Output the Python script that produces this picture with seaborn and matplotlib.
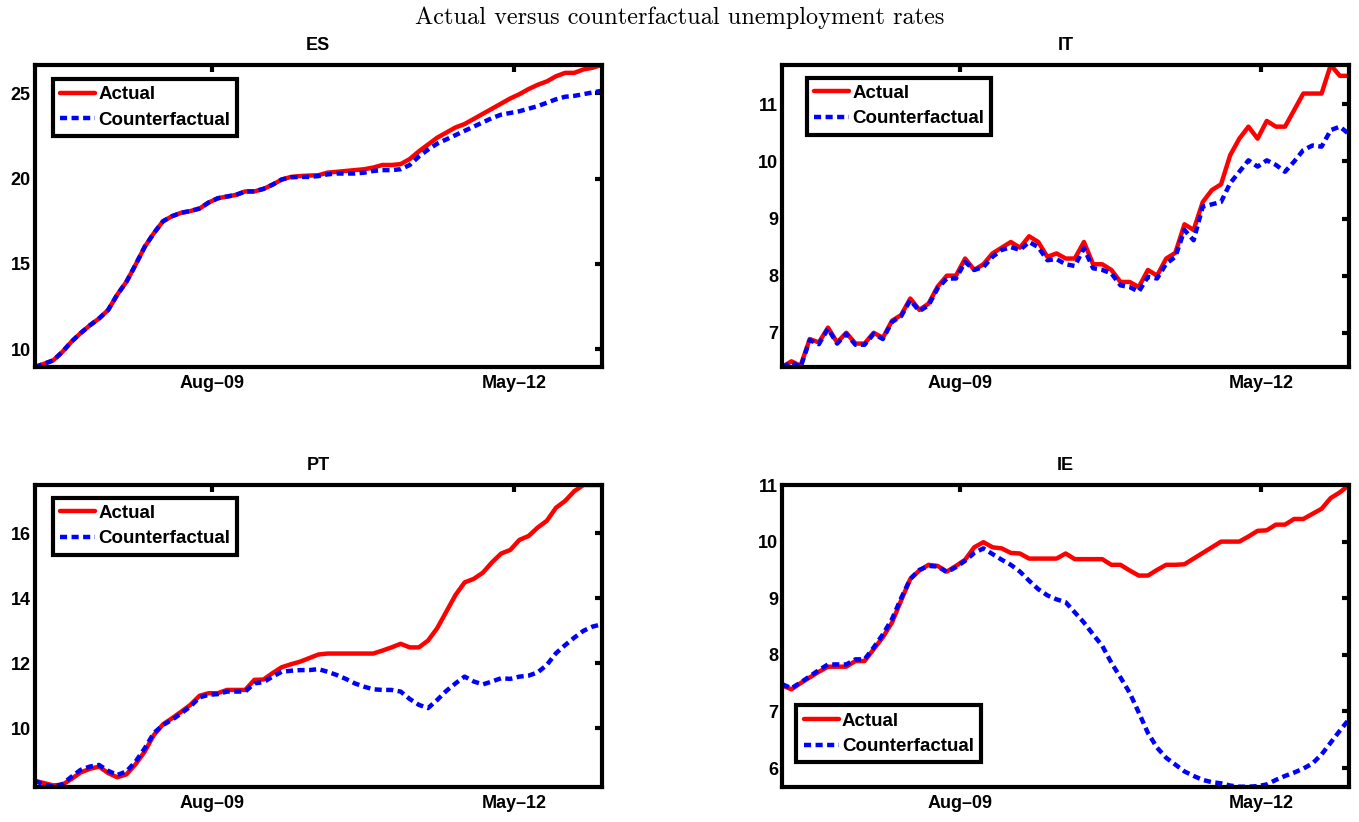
import numpy as np
import pandas as pd
import matplotlib
matplotlib.use("Agg")
import matplotlib.pyplot as plt
import seaborn as sns

# ---------------- data (monthly, index 0 = first month shown) ----------------
months = list(range(63))
tick_labels = ["Aug\u201309", "May\u201312"]
tick_months = [19.4, 52.4]

es_actual = [8.96, 9.15, 9.35, 9.85, 10.45, 10.95, 11.4, 11.8, 12.3, 13.2,
             13.95, 14.95, 16.0, 16.8, 17.5, 17.8, 18.0, 18.1, 18.25, 18.6,
             18.85, 18.95, 19.05, 19.25, 19.25, 19.4, 19.65, 19.95, 20.1, 20.15,
             20.18, 20.2, 20.35, 20.4, 20.45, 20.5, 20.55, 20.65, 20.8, 20.8,
             20.85, 21.15, 21.6, 22.0, 22.4, 22.7, 23.0, 23.2, 23.5, 23.8,
             24.1, 24.4, 24.7, 24.95, 25.25, 25.5, 25.7, 26.0, 26.2, 26.2,
             26.4, 26.5, 26.66]
es_counter = [8.96, 9.15, 9.35, 9.85, 10.45, 10.95, 11.4, 11.8, 12.3, 13.2,
              13.95, 14.95, 16.0, 16.8, 17.5, 17.8, 18.0, 18.1, 18.25, 18.6,
              18.85, 18.95, 19.05, 19.25, 19.25, 19.4, 19.65, 19.95, 20.08, 20.1,
              20.1, 20.15, 20.25, 20.3, 20.3, 20.3, 20.35, 20.45, 20.5, 20.5,
              20.55, 20.8, 21.3, 21.7, 22.05, 22.3, 22.55, 22.8, 23.05, 23.3,
              23.55, 23.75, 23.85, 23.95, 24.1, 24.25, 24.45, 24.65, 24.8, 24.85,
              24.95, 25.05, 25.15]

it_actual = [6.40, 6.50, 6.42, 6.89, 6.83, 7.09, 6.83, 7.0, 6.81, 6.81,
             7.0, 6.91, 7.21, 7.31, 7.6, 7.4, 7.51, 7.81, 8.0, 8.0,
             8.3, 8.1, 8.2, 8.39, 8.49, 8.59, 8.49, 8.69, 8.59, 8.33,
             8.39, 8.3, 8.3, 8.59, 8.2, 8.2, 8.1, 7.89, 7.89, 7.8,
             8.1, 8.0, 8.3, 8.4, 8.9, 8.8, 9.29, 9.5, 9.6, 10.11,
             10.4, 10.61, 10.4, 10.71, 10.61, 10.61, 10.9, 11.19, 11.19, 11.19,
             11.69, 11.5, 11.5]
it_counter = [6.40, 6.48, 6.40, 6.87, 6.80, 7.07, 6.81, 6.98, 6.79, 6.79,
              6.98, 6.89, 7.19, 7.29, 7.57, 7.38, 7.48, 7.78, 7.95, 7.95,
              8.24, 8.1, 8.15, 8.33, 8.45, 8.5, 8.45, 8.59, 8.5, 8.27,
              8.29, 8.2, 8.17, 8.48, 8.13, 8.1, 8.04, 7.83, 7.8, 7.72,
              7.98, 7.95, 8.21, 8.33, 8.8, 8.62, 9.21, 9.25, 9.29, 9.62,
              9.82, 10.02, 9.91, 10.02, 9.94, 9.82, 10.0, 10.2, 10.28, 10.26,
              10.55, 10.61, 10.48]

pt_actual = [8.38, 8.31, 8.24, 8.26, 8.44, 8.64, 8.75, 8.82, 8.62, 8.49,
             8.58, 8.89, 9.28, 9.79, 10.12, 10.31, 10.51, 10.72, 11.0, 11.08,
             11.08, 11.18, 11.18, 11.18, 11.49, 11.5, 11.7, 11.88, 11.97, 12.05,
             12.16, 12.27, 12.3, 12.3, 12.3, 12.3, 12.3, 12.3, 12.39, 12.49,
             12.6, 12.49, 12.49, 12.7, 13.08, 13.59, 14.1, 14.49, 14.6, 14.79,
             15.11, 15.38, 15.49, 15.8, 15.92, 16.18, 16.39, 16.79, 17.0, 17.3,
             17.49, 17.49, 17.49]
pt_counter = [8.38, 8.26, 8.2, 8.28, 8.51, 8.72, 8.82, 8.87, 8.69, 8.56,
              8.67, 8.97, 9.38, 9.85, 10.1, 10.26, 10.46, 10.67, 10.95, 11.03,
              11.05, 11.13, 11.13, 11.13, 11.38, 11.42, 11.59, 11.74, 11.77, 11.79,
              11.79, 11.82, 11.74, 11.64, 11.52, 11.38, 11.28, 11.2, 11.18, 11.18,
              11.13, 10.9, 10.72, 10.62, 10.87, 11.15, 11.38, 11.59, 11.44, 11.35,
              11.44, 11.54, 11.52, 11.59, 11.62, 11.72, 11.95, 12.31, 12.56, 12.79,
              13.0, 13.13, 13.2]

ie_actual = [7.46, 7.39, 7.5, 7.6, 7.7, 7.79, 7.79, 7.79, 7.89, 7.89,
             8.1, 8.31, 8.57, 8.96, 9.34, 9.49, 9.59, 9.57, 9.47, 9.57,
             9.68, 9.9, 9.99, 9.9, 9.88, 9.8, 9.79, 9.7, 9.7, 9.7,
             9.7, 9.79, 9.69, 9.69, 9.69, 9.69, 9.59, 9.59, 9.49, 9.4,
             9.4, 9.5, 9.59, 9.59, 9.6, 9.7, 9.8, 9.9, 10.0, 10.0,
             10.0, 10.09, 10.19, 10.2, 10.3, 10.3, 10.4, 10.4, 10.49, 10.58,
             10.77, 10.87, 11.0]
ie_counter = [7.48, 7.41, 7.51, 7.62, 7.73, 7.83, 7.83, 7.83, 7.92, 7.92,
              8.13, 8.36, 8.63, 9.0, 9.34, 9.5, 9.57, 9.56, 9.46, 9.55,
              9.66, 9.8, 9.88, 9.78, 9.68, 9.59, 9.47, 9.31, 9.16, 9.05,
              8.98, 8.93, 8.75, 8.57, 8.36, 8.16, 7.86, 7.6, 7.33, 6.98,
              6.62, 6.36, 6.18, 6.06, 5.94, 5.86, 5.79, 5.75, 5.73, 5.69,
              5.67, 5.67, 5.68, 5.71, 5.79, 5.86, 5.92, 5.99, 6.08, 6.24,
              6.45, 6.66, 6.86]

panels = [
    ("ES", es_actual, es_counter, [10, 15, 20, 25], "upper left", (0.031, 0.954)),
    ("IT", it_actual, it_counter, [7, 8, 9, 10, 11], "upper left", (0.043, 0.958)),
    ("PT", pt_actual, pt_counter, [10, 12, 14, 16], "upper left", (0.031, 0.958)),
    ("IE", ie_actual, ie_counter, [6, 7, 8, 9, 10, 11], "lower left", (0.025, 0.081)),
]

# ---------------- style ----------------
sns.set_theme(style="white")
plt.rcParams["font.family"] = ["Liberation Sans", "DejaVu Sans"]
plt.rcParams["font.weight"] = "bold"
for k in ["text.color", "axes.labelcolor", "xtick.color", "ytick.color",
          "axes.edgecolor"]:
    plt.rcParams[k] = "black"

fig = plt.figure(figsize=(13.59, 8.22), dpi=100)
W, H = 1359.0, 822.0
boxes = [
    (35, 65, 601.7, 367),
    (782.3, 65, 1349, 367),
    (35, 485, 601.7, 786.7),
    (782.3, 485, 1349, 786.7),
]

palette = {"Actual": "#ff0000", "Counterfactual": "#0000ff"}
dashes = {"Actual": "", "Counterfactual": (1.6, 1.0)}

for (name, act, cf, yticks, loc, anchor), (x0, y0, x1, y1) in zip(panels, boxes):
    ax = fig.add_axes([x0 / W, 1 - y1 / H, (x1 - x0) / W, (y1 - y0) / H])
    df = pd.DataFrame({
        "month": months * 2,
        "rate": list(act) + list(cf),
        "series": ["Actual"] * len(months) + ["Counterfactual"] * len(months),
    })
    sns.lineplot(data=df, x="month", y="rate", hue="series", style="series",
                 palette=palette, dashes=dashes, linewidth=3.2, ax=ax)
    ax.set_xlim(months[0], months[-1])
    ymin = min(min(act), min(cf))
    ymax = max(max(act), max(cf))
    ax.set_ylim(ymin, ymax)
    ax.set_xticks(tick_months)
    ax.set_xticklabels(tick_labels)
    ax.set_yticks(yticks)
    ax.set_xlabel("")
    ax.set_ylabel("")
    for sp in ax.spines.values():
        sp.set_linewidth(3)
        sp.set_color("black")
        sp.set_visible(True)
    ax.tick_params(direction="in", length=5, width=3, top=True, right=True,
                   labelsize=13, colors="black")
    ax.tick_params(axis="x", pad=6)
    ax.tick_params(axis="y", pad=3)
    for lab in ax.get_xticklabels() + ax.get_yticklabels():
        lab.set_fontweight("bold")
        lab.set_color("black")
    ax.set_title(name, fontsize=13, fontweight="bold", pad=11, color="black")

    handles, labels = ax.get_legend_handles_labels()
    leg = ax.legend(handles, labels, loc=loc, bbox_to_anchor=anchor,
                    borderaxespad=0, fancybox=False, framealpha=1,
                    edgecolor="black", handlelength=1.9,
                    handletextpad=0.15, labelspacing=0.45, borderpad=0.38,
                    prop={"weight": "bold", "size": 13.5})
    leg.get_frame().set_linewidth(3)
    for t in leg.get_texts():
        t.set_color("black")

fig.text(0.5, 1 - 18 / H, "Actual versus counterfactual unemployment rates",
         ha="center", va="center", fontsize=17.5, family="cmr10", color="black")

fig.savefig("out.png", dpi=100)
